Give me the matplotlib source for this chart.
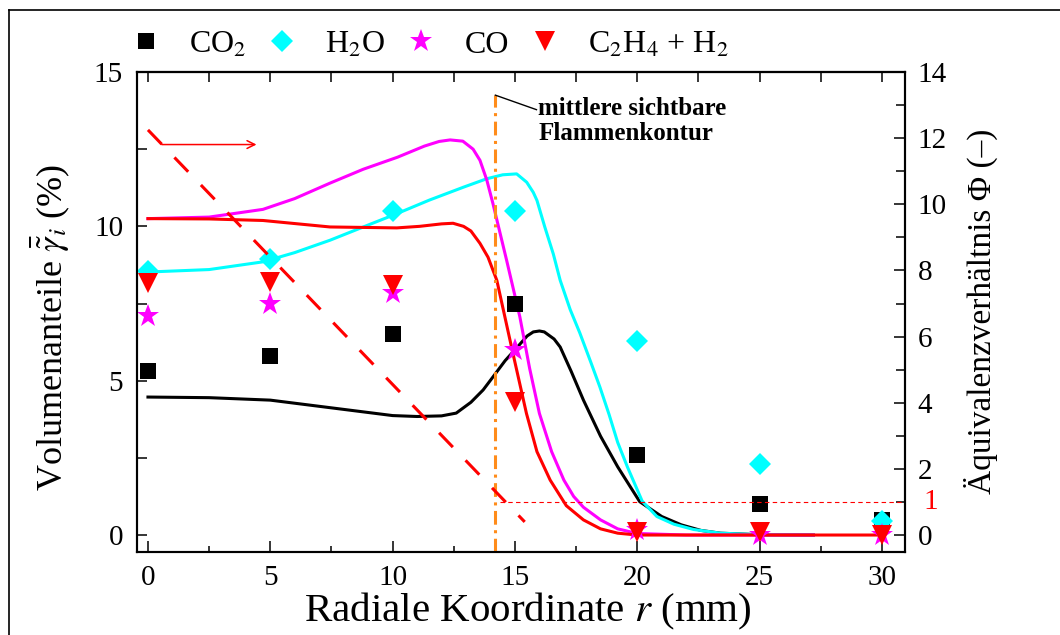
import numpy as np
import matplotlib
matplotlib.use("Agg")
import matplotlib.pyplot as plt
from matplotlib.lines import Line2D

plt.rcParams['font.family'] = ['Liberation Serif', 'DejaVu Serif']
plt.rcParams['mathtext.fontset'] = 'stix'

### Messwerte (Symbole)
r_meas = [0, 5, 10, 15, 20, 25, 30]
co2_meas = [5.3, 5.8, 6.5, 7.5, 2.6, 1.0, 0.5]
h2o_meas = [8.55, 8.95, 10.5, 10.5, 6.3, 2.3, 0.45]
co_meas = [7.1, 7.5, 7.85, 6.0, 0.15, 0.0, 0.0]
c2h4_meas = [8.15, 8.2, 8.1, 4.3, 0.1, 0.1, 0.0]

### Simulation (Linien)
r_co2_sim = [0, 2.5, 5, 7.5, 10, 11.0, 12.0, 12.6, 13.2, 13.7, 14.1, 14.6, 15.1, 15.5, 15.75,
             16.0, 16.2, 16.6, 16.85, 17.3, 17.8, 18.5, 19.2, 20.1, 21.0, 21.8, 22.6, 23.4, 25, 27.2]
co2_sim = [4.47, 4.45, 4.37, 4.12, 3.87, 3.84, 3.86, 3.95, 4.3, 4.7, 5.12, 5.65, 6.09, 6.45, 6.58,
           6.61, 6.58, 6.35, 6.09, 5.3, 4.37, 3.2, 2.21, 1.08, 0.6, 0.33, 0.15, 0.06, 0.01, 0.0]

r_h2o_sim = [0, 2.5, 4.7, 6, 7.44, 8.8, 10.17, 11.5, 12.9, 13.84, 14.5, 15.07, 15.48, 15.75, 15.9,
             16.22, 16.57, 16.85, 17.26, 17.65, 18.1, 18.47, 18.85, 19.2, 19.6, 20.2, 20.8, 21.5,
             22.3, 23.4, 25, 27.2]
h2o_sim = [8.52, 8.6, 8.85, 9.15, 9.55, 9.98, 10.41, 10.85, 11.27, 11.54, 11.67, 11.7, 11.43, 11.1, 10.84,
           9.98, 9.1, 8.25, 7.3, 6.55, 5.6, 4.8, 3.9, 3.0, 2.2, 1.1, 0.6, 0.35,
           0.18, 0.06, 0.01, 0.0]

r_co_sim = [0, 2.5, 4.7, 6, 7.44, 8.8, 10.2, 11.3, 11.9, 12.35, 12.87, 13.29, 13.57, 13.85, 14.1,
            14.66, 15.2, 15.6, 16.0, 16.5, 17.0, 17.4, 17.8, 18.5, 19.2, 20.0, 22.0, 25, 27.2]
co_sim = [10.25, 10.3, 10.55, 10.9, 11.4, 11.85, 12.24, 12.6, 12.75, 12.8, 12.76, 12.5, 12.14, 11.5, 10.74,
          8.9, 7.07, 5.4, 3.94, 2.7, 1.78, 1.25, 0.9, 0.49, 0.2, 0.05, 0.0, 0.0, 0.0]

r_c2h4_sim = [0, 2.5, 4.7, 7.44, 10.17, 11.1, 12.0, 12.47, 12.9, 13.2, 13.57, 13.9, 14.26, 14.86,
              15.47, 15.9, 16.44, 17.1, 17.8, 18.5, 19.2, 20.0, 25, 30]
c2h4_sim = [10.25, 10.24, 10.19, 9.98, 9.95, 10.0, 10.08, 10.1, 10.0, 9.85, 9.45, 9.0, 8.25, 6.09,
            3.94, 2.7, 1.78, 0.95, 0.49, 0.2, 0.06, 0.0, 0.0, 0.0]

### Aequivalenzverhaeltnis (rechte Achse)
r_phi = [0, 15.4]
phi = [12.25, 0.4]
phi_stoich = 1
r_phi_stoich = [14.4, 31]

r_flamme = 14.2
y_flamme_top = 14.25

####################################################################################
#                                      PLOT                                        #
####################################################################################
fig = plt.figure(figsize=(10.6, 6.35), dpi=100)
ax = fig.add_axes([0.1292, 0.1307, 0.7245, 0.7559])
ax2 = ax.twinx()

lw = 2.2
ax.plot(r_co2_sim, co2_sim, color='black', lw=lw, zorder=2)
ax.plot(r_h2o_sim, h2o_sim, color='#00FFFF', lw=lw, zorder=2)
ax.plot(r_co_sim, co_sim, color='#FF00FF', lw=lw, zorder=2)
ax.plot(r_c2h4_sim, c2h4_sim, color='#FF0000', lw=lw, zorder=2)

h1, = ax.plot(r_meas, co2_meas, 's', color='black', ms=11, mew=0, zorder=4, label='CO$_2$')
h2, = ax.plot(r_meas, h2o_meas, 'D', color='#00FFFF', ms=11.5, mew=0, zorder=4, label='H$_2$O')
h3, = ax.plot(r_meas, co_meas, '*', color='#FF00FF', ms=17, mew=0, zorder=4, label='CO')
h4, = ax.plot(r_meas, c2h4_meas, 'v', color='#FF0000', ms=15, mew=0, zorder=4, label='C$_2$H$_4$ + H$_2$')

# Flammenkontur
ax.plot([r_flamme, r_flamme], [-0.55, y_flamme_top], color='#FF8C1A', lw=2.2,
        dashes=(4.5, 1.8, 1, 1.8), zorder=3)
ax.plot([r_flamme, 15.88], [y_flamme_top, 13.78], color='black', lw=1.0, zorder=3)
ax.text(15.95, 14.2, 'mittlere sichtbare\nFlammenkontur', ha='left', va='top',
        fontsize=18, fontweight='bold', linespacing=1.15)

# Phi
ax2.plot(r_phi, phi, color='#FF0000', lw=2.2, dashes=(6.5, 6), zorder=3)
ax2.plot(r_phi_stoich, [phi_stoich, phi_stoich], color='#FF0000', lw=0.8, dashes=(4, 3))
ax.annotate('', xy=(4.55, 12.65), xytext=(0.45, 12.65),
            arrowprops=dict(arrowstyle='->', color='#FF0000', lw=1.1, mutation_scale=14))

# Achsen
ax.set_xlim(-0.45, 30.94)
ax.set_ylim(-0.55, 15.0)
ax2.set_ylim(-0.51, 14.0)

ax.set_xticks(np.arange(0, 31, 5))
ax.set_xticks(np.arange(0, 31, 2.5), minor=True)
ax.set_yticks([0, 5, 10, 15])
ax.set_yticks(np.arange(0, 15.1, 2.5), minor=True)
ax2.set_yticks(np.arange(0, 15, 2))
ax2.set_yticks(np.arange(1, 14, 2), minor=True)

ax.tick_params(axis='x', which='major', direction='in', length=8, width=1.1, labelsize=21, pad=9)
ax.tick_params(axis='x', which='minor', direction='in', length=4, width=1.1)
ax.tick_params(axis='y', which='both', direction='in', length=7, width=1.1, labelsize=21, pad=10)
ax2.tick_params(axis='y', which='major', direction='in', length=8, width=1.1, labelsize=21, pad=9)
ax2.tick_params(axis='y', which='minor', direction='in', length=6.5, width=1.1)

top = ax.secondary_xaxis('top')
top.set_xticks(np.arange(0, 31, 2.5))
top.tick_params(direction='in', length=7, width=1.1, labeltop=False)

for a in (ax, ax2):
    for s in a.spines.values():
        s.set_linewidth(1.5)
top.spines['top'].set_linewidth(1.5)

# rote 1 an der rechten Achse
ax2.annotate('1', xy=(1.0, phi_stoich), xycoords=('axes fraction', 'data'),
             xytext=(13, 0), textcoords='offset points', color='#FF0000',
             fontsize=21, ha='left', va='center')

ax.set_xlabel('Radiale Koordinate $r$ (mm)', fontsize=29.5)
ax.xaxis.set_label_coords(0.509, -0.08)
ax.set_ylabel(r'Volumenanteile $\bar{\tilde{\gamma}}_i$ (%)', fontsize=26)
ax.yaxis.set_label_coords(-0.085, 0.467)
ax2.set_ylabel('Äquivalenzverhältnis Φ (–)', fontsize=24)
ax2.yaxis.set_label_coords(1.076, 0.502)

fig.legend(handles=[h1, h2, h3, h4], loc='center left', bbox_to_anchor=(130 / 1060, 1 - 45 / 635),
           ncol=4, frameon=False, fontsize=23, handlelength=1.0, handletextpad=0.85,
           columnspacing=0.62, borderpad=0, borderaxespad=0)

# Rahmen
fig.add_artist(Line2D([9 / 1060, 9 / 1060], [0, 1 - 10 / 635], color='black', lw=1.2,
                      transform=fig.transFigure))
fig.add_artist(Line2D([9 / 1060, 1], [1 - 10 / 635, 1 - 10 / 635], color='black', lw=1.2,
                      transform=fig.transFigure))

plt.savefig('out.png', dpi=100)
plt.close()
